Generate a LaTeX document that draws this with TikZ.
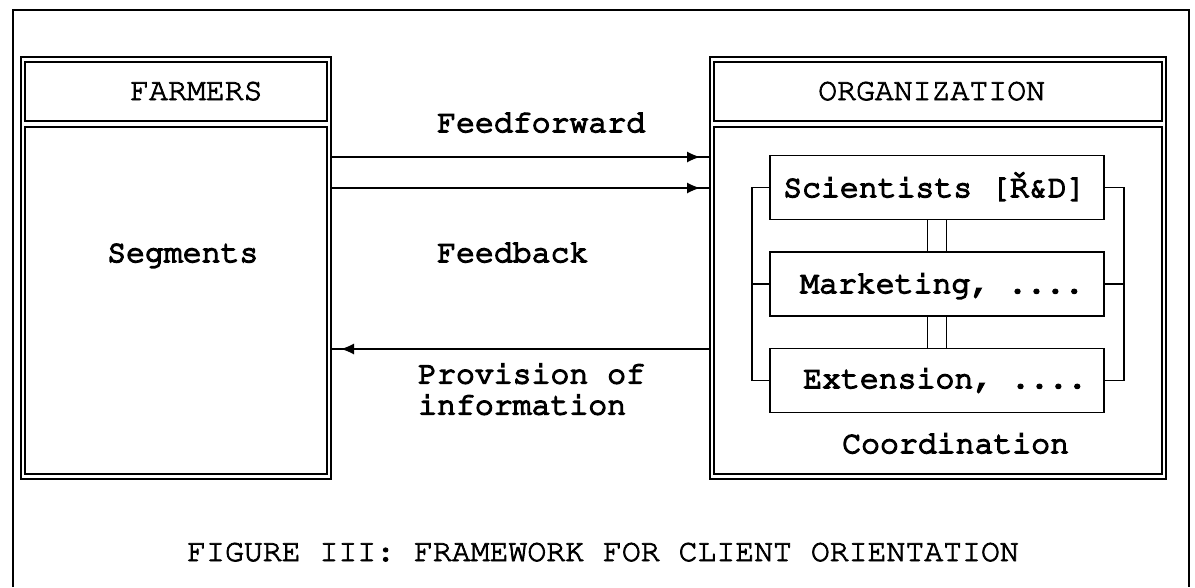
\documentclass[tikz,border=0pt]{standalone}
\usepackage[T1]{fontenc}
\usepackage{courier}
\renewcommand\familydefault{\ttdefault}
\usetikzlibrary{arrows.meta,decorations.markings}

% typewriter ink: fill and stroke the glyphs to thicken them
\newcommand\inked[2]{\special{pdf:literal direct 2 Tr #1 w}#2\special{pdf:literal direct 0 Tr}}

\begin{document}
\begin{tikzpicture}[x=1pt,y=-1pt,
  frameline/.style={line width=1.8pt},
  boxline/.style={draw, line width=1.4pt, inner sep=0pt, outer sep=0pt, rectangle},
  unitbox/.style={boxline, minimum width=334pt, minimum height=64pt},
  heavy/.style={font=\fontsize{31.5}{31}\selectfont, anchor=base west, inner sep=0pt},
  plain/.style={font=\fontsize{31.5}{31}\selectfont, anchor=base west, inner sep=0pt},
  flow/.style={line width=1.1pt, postaction={decorate},
    decoration={markings, mark=at position -10pt with {\arrow{Latex[length=13pt,width=11pt]}}}},
  link/.style={line width=1.4pt}
]
\useasboundingbox (0,0) rectangle (1195,587);

% page frame (open at the bottom)
\draw[frameline] (13,587) -- (13,10) -- (1189,10) -- (1189,587);

% FARMERS column
\node[boxline, minimum width=310pt, minimum height=422pt] (farm) at (176,268) {};
\node[boxline, minimum width=302pt, minimum height=59pt] (farmhead) at (176,91.5) {};
\node[boxline, minimum width=302pt, minimum height=347pt] (farmbody) at (176,300.5) {};
\node[plain] (farmtitle) at (130,100) {\inked{0.8}{FARMERS}};
\node[heavy] (segments) at (107,262) {\inked{1.5}{Segments}};

% ORGANIZATION column
\node[boxline, minimum width=456pt, minimum height=422pt] (org) at (938,268) {};
\node[boxline, minimum width=448pt, minimum height=59pt] (orghead) at (938,91.5) {};
\node[boxline, minimum width=448pt, minimum height=347pt] (orgbody) at (938,300.5) {};
\node[plain] (orgtitle) at (818,100) {\inked{0.8}{ORGANIZATION}};

% units inside the organization
\node[unitbox] (sci) at (937,187.5) {};
\node[unitbox] (mkt) at (937,284) {};
\node[unitbox] (ext) at (937,380.5) {};
\node[heavy] (scitext) at (783,197) {\inked{1.5}{Scientists [\v{R}\&D]}};
\node[heavy] (mkttext) at (800,293) {\inked{1.5}{Marketing, ....}};
\node[heavy] (exttext) at (803,388) {\inked{1.5}{Extension, ....}};
\node[heavy] (coord) at (842,453) {\inked{1.5}{Coordination}};

% double links between the units
\draw[link] ([xshift=-9.5pt]sci.south) -- ([xshift=-9.5pt]mkt.north);
\draw[link] ([xshift=9.5pt]sci.south) -- ([xshift=9.5pt]mkt.north);
\draw[link] ([xshift=-9.5pt]mkt.south) -- ([xshift=-9.5pt]ext.north);
\draw[link] ([xshift=9.5pt]mkt.south) -- ([xshift=9.5pt]ext.north);

% coordination brackets
\draw[link] (sci.west) -- ++(-18,0) |- (ext.west);
\draw[link] (mkt.west) -- ++(-18,0);
\draw[link] (sci.east) -- ++(20,0) |- (ext.east);
\draw[link] (mkt.east) -- ++(20,0);

% flows between farmers and organization
\draw[flow] (farm.east |- 0,157) -- (org.west |- 0,157);
\draw[flow] (farm.east |- 0,188) -- (org.west |- 0,188);
\draw[flow] (org.west |- 0,349) -- (farm.east |- 0,349);
\node[heavy] (ffwd) at (437,132) {\inked{1.5}{Feedforward}};
\node[heavy] (fback) at (437,262) {\inked{1.5}{Feedback}};
\node[heavy, align=left, anchor=north west] (prov) at (418,363)
  {\inked{1.5}{Provision of}\\\inked{1.5}{information}};

% caption
\node[plain] (caption) at (187,561) {\inked{0.8}{FIGURE III: FRAMEWORK FOR CLIENT ORIENTATION}};
\end{tikzpicture}
\end{document}
